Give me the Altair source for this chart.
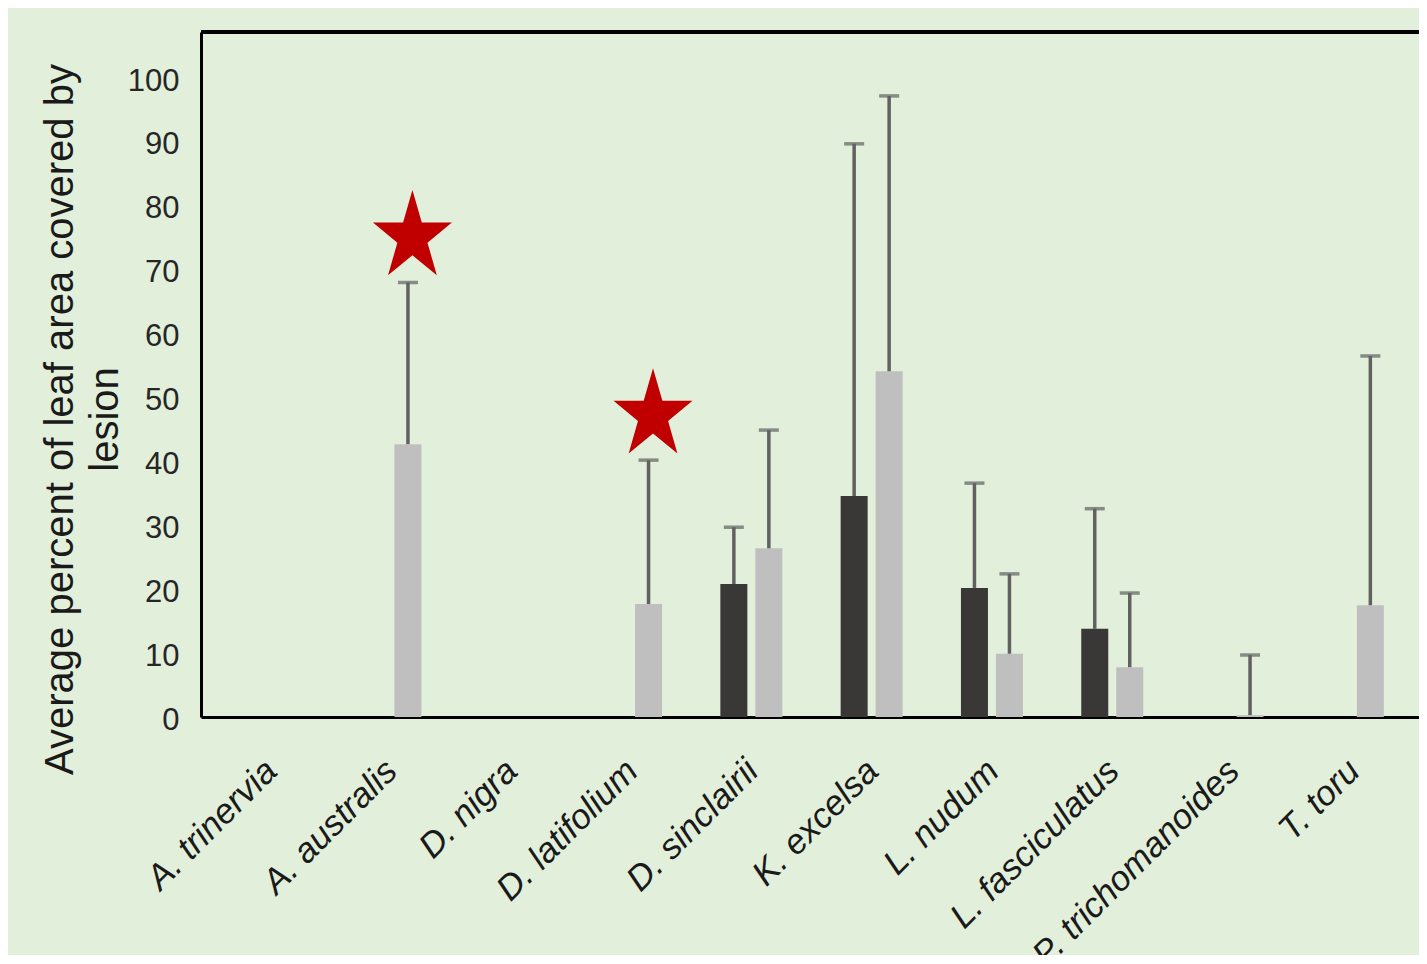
import altair as alt
import pandas as pd

# ---- data ----
species = ["A. trinervia", "A. australis", "D. nigra", "D. latifolium", "D. sinclairii",
           "K. excelsa", "L. nudum", "L. fasciculatus", "P. trichomanoides", "T. toru"]
dark_mean = [None, None, None, None, 20.8, 34.6, 20.2, 13.8, None, None]
dark_err = [None, None, None, None, 8.9, 55.1, 16.4, 18.8, None, None]
light_mean = [None, 42.7, None, 17.7, 26.4, 54.1, 9.9, 7.8, 0.3, 17.5]
light_err = [None, 25.3, None, 22.5, 18.5, 43.1, 12.5, 11.6, 9.4, 39.0]
star_species = ["A. australis", "D. latifolium"]
star_y = [75.1, 47.2]
y_ticks = [0, 10, 20, 30, 40, 50, 60, 70, 80, 90, 100]

rows = []
for i, sp in enumerate(species):
    if dark_mean[i] is not None:
        rows.append({"species": sp, "series": "a", "mean": dark_mean[i],
                     "top": dark_mean[i] + dark_err[i]})
    if light_mean[i] is not None:
        rows.append({"species": sp, "series": "b", "mean": light_mean[i],
                     "top": light_mean[i] + light_err[i]})
df = pd.DataFrame(rows)
stars = pd.DataFrame({"species": star_species, "series": ["b"] * len(star_species), "y": star_y})

W, H = 1218, 685
BG = "#E2EFDA"

x_scale = alt.Scale(domain=species, paddingInner=0, paddingOuter=0.0623, align=0.6)
xo_scale = alt.Scale(domain=["a", "b"], paddingInner=0.2286, paddingOuter=0.833)
y_scale = alt.Scale(domain=[0, 107.2], nice=False, zero=True)

x_enc = alt.X("species:N", scale=x_scale, sort=species,
              axis=alt.Axis(title=None, labelAngle=-45, labelFont="Liberation Sans",
                            labelFontStyle="italic", labelFontSize=35, labelColor="#1a1a1a",
                            ticks=False, domainColor="#000000", domainWidth=3,
                            labelPadding=36, labelOffset=-11, labelLimit=0))
y_enc = alt.Y("mean:Q", scale=y_scale,
              axis=alt.Axis(values=y_ticks, grid=False, ticks=False, domainColor="#000000",
                            domainWidth=3, labelFont="Liberation Sans", labelFontSize=31,
                            labelColor="#262626", labelPadding=22, labelOffset=3,
                            title=["Average percent of leaf area covered by", "lesion"],
                            titleFont="Liberation Sans", titleFontSize=40, titleFontWeight="normal",
                            titleColor="#1a1a1a", titleLineHeight=45, titleBaseline="middle",
                            titleX=-141, titleY=387))
xo_enc = alt.XOffset("series:N", scale=xo_scale)

bars = alt.Chart(df).mark_bar().encode(
    x=x_enc, xOffset=xo_enc, y=y_enc,
    color=alt.Color("series:N", scale=alt.Scale(domain=["a", "b"], range=["#3A3836", "#BFBFBF"]),
                    legend=None),
)

err = alt.Chart(df).mark_rule(color="#616161", strokeWidth=3.5).encode(
    x=alt.X("species:N", scale=x_scale, sort=species), xOffset=xo_enc,
    y=alt.Y("mean:Q", scale=y_scale), y2="top:Q",
)

caps = alt.Chart(df).mark_tick(color="#616161", size=20, thickness=3.5).encode(
    x=alt.X("species:N", scale=x_scale, sort=species), xOffset=xo_enc,
    y=alt.Y("top:Q", scale=y_scale),
)

# five-point star, slightly narrow, nudged a little to the right of the bar centre
star_path = ("M0.095,-1L0.293,-0.309L0.932,-0.309L0.414,0.118L0.612,0.809L0.095,0.382"
             "L-0.422,0.809L-0.224,0.118L-0.742,-0.309L-0.103,-0.309Z")
star_marks = alt.Chart(stars).mark_point(shape=star_path, filled=True, color="#C00000",
                                         opacity=1, size=8900, strokeWidth=0).encode(
    x=alt.X("species:N", scale=x_scale, sort=species), xOffset=xo_enc,
    y=alt.Y("y:Q", scale=y_scale),
)

top_border = alt.Chart(df).mark_rule(color="#000000", strokeWidth=3).encode(
    x=alt.value(0), x2=alt.value(W), y=alt.value(0)
)

chart = alt.layer(bars, err, caps, star_marks, top_border).properties(
    width=W, height=H, background=BG,
    autosize=alt.AutoSizeParams(type="none"),
    padding={"left": 193, "top": 24, "right": 0, "bottom": 238},
).configure_view(stroke=None).configure_axis(labelOverlap=False)

chart.save("out.html", embed_options={"renderer": "svg", "actions": False})
